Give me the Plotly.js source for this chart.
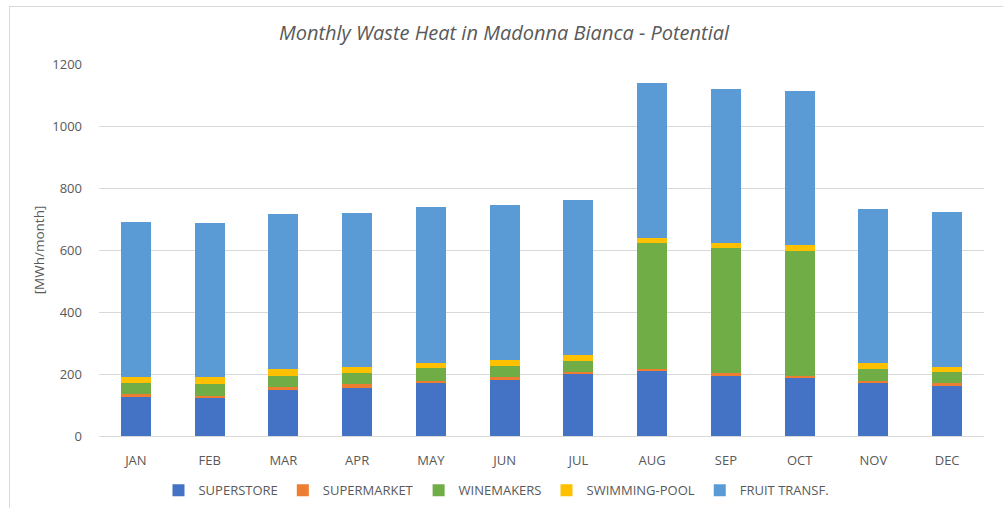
<!DOCTYPE html>
<html>
<head>
<meta charset="utf-8">
<script src="https://cdn.plot.ly/plotly-3.0.1.min.js"></script>
<style>
  html, body { margin: 0; padding: 0; background: #ffffff; }
  #wrap { position: relative; width: 1003px; height: 508px; overflow: hidden; }
  #chart { width: 1003px; height: 508px; }
  #frame { position: absolute; left: 9px; top: 6px; width: 1000px; height: 510px; border: 1px solid #d9d9d9; pointer-events: none; box-sizing: border-box; }
</style>
</head>
<body>
<div id="wrap">
  <div id="chart"></div>
  <div id="frame"></div>
</div>
<script>
const months = ["JAN","FEB","MAR","APR","MAY","JUN","JUL","AUG","SEP","OCT","NOV","DEC"];
const superstore  = [127,122,148,156,172,181,199,210,195,186,170,162];
const supermarket = [7,8,10,13,6,9,7,7,9,8,8,8];
const winemakers  = [36,39,37,33,40,36,37,407,401,403,37,37];
const swimmingPool= [19,20,20,20,19,19,18,16,16,18,19,17];
const fruitTransf = [500,499,500,498,503,500,499,500,499,498,499,500];

const seriesNames  = ["SUPERSTORE","SUPERMARKET","WINEMAKERS","SWIMMING-POOL","FRUIT TRANSF."];
const seriesValues = [superstore, supermarket, winemakers, swimmingPool, fruitTransf];
const seriesColors = ["#4472C4","#ED7D31","#70AD47","#FFC000","#5B9BD5"];

const traces = seriesNames.map((n, i) => ({
  type: "bar",
  name: n,
  x: months,
  y: seriesValues[i],
  marker: { color: seriesColors[i] },
  hoverinfo: "x+y+name"
}));

const font = "Open Sans, Liberation Sans, sans-serif";
const layout = {
  width: 1003,
  height: 508,
  barmode: "stack",
  bargap: 0.59,
  paper_bgcolor: "#ffffff",
  plot_bgcolor: "#ffffff",
  margin: { l: 99, r: 19, t: 64, b: 72, autoexpand: false },
  title: {
    text: "<i>Monthly Waste Heat in Madonna Bianca - Potential</i>",
    font: { family: font, size: 20, color: "#595959" },
    x: 0.5025, xanchor: "center", xref: "container",
    y: 0.935, yanchor: "middle", yref: "container"
  },
  xaxis: {
    type: "category",
    tickfont: { family: font, size: 13, color: "#595959" },
    showgrid: false,
    showline: false,
    zeroline: false,
    ticks: "outside",
    ticklen: 12,
    tickcolor: "rgba(0,0,0,0)"
  },
  yaxis: {
    range: [0, 1200],
    dtick: 200,
    tickfont: { family: font, size: 13, color: "#595959" },
    gridcolor: "#d9d9d9",
    gridwidth: 1,
    zeroline: true,
    zerolinecolor: "#d9d9d9",
    zerolinewidth: 1,
    showline: false,
    ticks: "",
    ticklabelstandoff: 16,
    title: {
      text: "[MWh/month]",
      font: { family: font, size: 13.5, color: "#595959" },
      standoff: 4
    }
  },
  legend: {
    orientation: "h",
    x: 0.495, xanchor: "center", xref: "container",
    y: 0.035, yanchor: "middle", yref: "container",
    font: { family: font, size: 13, color: "#595959" },
    traceorder: "normal",
    itemwidth: 30
  },
  showlegend: true
};

Plotly.newPlot("chart", traces, layout, { displayModeBar: false, staticPlot: true });
</script>
</body>
</html>
